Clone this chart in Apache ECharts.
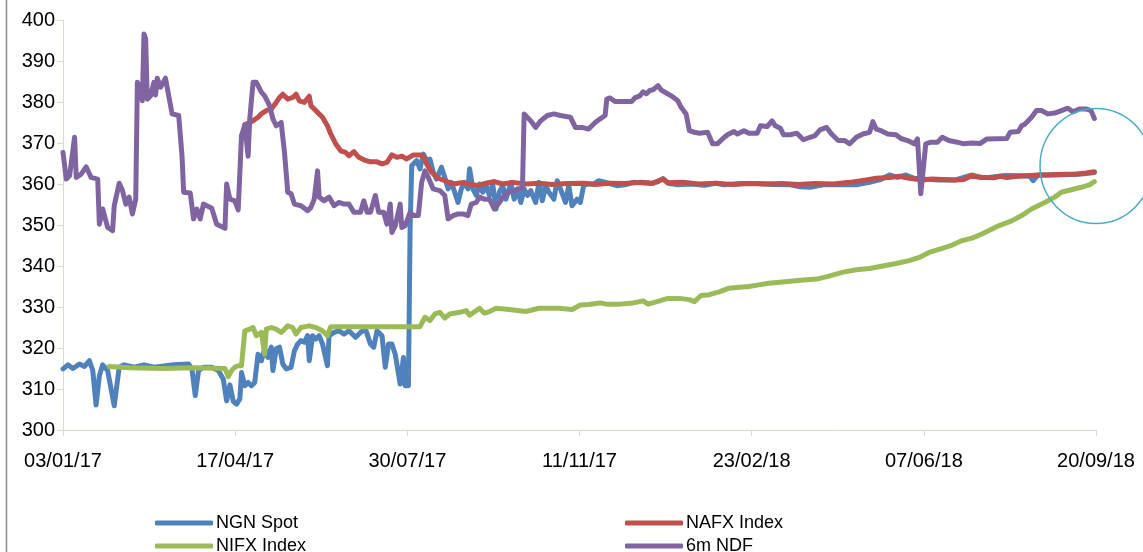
<!DOCTYPE html>
<html>
<head>
<meta charset="utf-8">
<script src="https://cdn.jsdelivr.net/npm/echarts@6/dist/echarts.min.js"></script>
<style>
html,body{margin:0;padding:0;background:#fff;}
#container{width:1143px;height:552px;}
</style>
</head>
<body>
<div id="container"></div>
<script>
// x values are days since 03/01/17
var tickLabels = ['03/01/17','17/04/17','30/07/17','11/11/17','23/02/18','07/06/18','20/09/18'];
var seriesNames = ['NGN Spot','NAFX Index','NIFX Index','6m NDF'];

var ngnSpot = [[0,314.9],[3,315.9],[6,315],[10,316.1],[13,315.5],[16,316.9],[18,314.5],[20,306.1],[22,313.2],[24,315.9],[27,314.5],[31,305.9],[34,315.3],[37,315.9],[43,315.3],[49,315.9],[55,315.3],[61,315.6],[67,315.9],[76,316.1],[78,314.9],[80,308.4],[82,314.5],[85,315.3],[90,315.3],[94,314.5],[97,312.4],[99,307.1],[101,311],[103,307],[105,306.3],[107,307.6],[108,314],[110,310.8],[112,311.6],[114,310.8],[116,311.6],[118,318.5],[120,316.9],[122,319.8],[124,317.7],[126,320.2],[127,314.5],[129,319.8],[131,320.2],[133,316.1],[135,314.9],[138,315.3],[140,319.3],[142,321],[144,321.8],[146,321.4],[148,323],[149,316.9],[151,323],[153,322.2],[155,323],[157,321],[160,315.7],[161,323],[164,323.8],[167,324.2],[170,323.4],[173,324.2],[177,322.6],[180,323.8],[183,324.6],[186,321],[188,320.2],[190,324.2],[193,323],[195,315.3],[197,321],[199,321],[201,318.5],[204,311.2],[206,317.7],[207,310.8],[209,310.8],[210,349],[211,364.5],[214,365.7],[216,363.7],[218,367.3],[220,365.7],[222,366.1],[224,362.9],[226,361.2],[229,364.1],[231,361.6],[233,358.8],[235,360.4],[237,358],[239,355.5],[241,358.8],[243,360.4],[245,358.8],[246,363.7],[248,358.8],[250,357.2],[252,360],[254,358],[256,359.6],[258,357.2],[260,360],[262,353.9],[264,358],[266,359.6],[268,356.3],[271,360.4],[273,356.3],[275,358.8],[277,355.5],[279,358.8],[281,357.2],[283,358.4],[286,355.5],[288,360.4],[290,355.9],[292,359.6],[294,358],[297,356.3],[299,360.8],[301,358.8],[304,355.5],[306,359.6],[308,354.7],[311,356.3],[313,355.5],[315,359.6],[317,360],[321,360],[324,360.8],[330,360.2],[335,359.6],[340,359.8],[345,360.4],[350,360.3],[356,360.1],[360,360.6],[363,361.3],[366,360.2],[372,359.8],[380,360],[388,359.7],[395,360.2],[400,359.8],[410,360.1],[420,360.1],[430,359.9],[440,359.8],[446,359.3],[452,359.2],[460,359.8],[470,359.9],[480,359.8],[488,360.4],[494,361],[500,362.2],[505,361.6],[510,362.2],[515,361.4],[520,361.2],[530,361],[540,361],[550,362.2],[555,361.6],[560,361.6],[570,362.1],[580,362],[585,361.9],[587,360.8],[590,362.2],[600,362.2],[610,362.3],[618,362.5],[624,362.8]];

var nafxIndex = [[110,374.5],[113,375],[115,375.4],[118,376.3],[120,377.1],[123,377.9],[126,378.3],[129,379.9],[131,381.1],[133,381.9],[136,380.7],[139,381.1],[141,381.9],[143,380.3],[146,379.9],[149,381.4],[150,379.1],[153,377.9],[157,376.3],[160,374.2],[162,372.2],[165,369.8],[168,368.1],[171,367.7],[173,366.9],[176,367.9],[179,366.5],[182,365.9],[186,365.4],[190,365.4],[193,364.9],[196,365.3],[199,367.1],[202,366.5],[205,366.8],[208,366.1],[212,367.1],[216,367.1],[218,366.9],[220,364.9],[223,362.9],[227,361.4],[231,360.8],[236,360],[241,360.3],[246,360],[251,359.6],[256,360.2],[261,360.6],[266,360],[272,360.4],[280,360],[288,360.2],[296,359.9],[305,360.1],[315,360.2],[322,359.9],[330,360.2],[340,360.1],[350,360.4],[357,360.2],[363,361.2],[366,360.3],[375,360.4],[385,360],[395,360.2],[405,359.9],[415,360.1],[425,360],[435,360.1],[445,359.9],[455,360.1],[466,360],[476,360.4],[486,361],[492,361.4],[500,361.6],[506,361.9],[512,361.4],[520,361],[526,361.2],[532,361.1],[540,361],[545,361.1],[549,361.9],[557,361.6],[563,361.5],[567,361.9],[571,361.6],[578,361.9],[583,362],[590,362.2],[595,362.2],[601,362.3],[607,362.4],[613,362.4],[619,362.7],[624,363]];

var nifxIndex = [[28,315.5],[40,315.2],[60,315],[80,315.2],[98,315],[100,313],[102,314.5],[104,315.3],[106,315.7],[108,315.7],[110,324.2],[113,324.6],[115,325],[117,323],[120,323.8],[122,318.5],[123,324.6],[126,325],[129,324.6],[132,323.8],[136,325.4],[139,325],[141,323.4],[144,325],[149,325.4],[153,325],[157,324.2],[160,323],[162,325.2],[190,325.2],[216,325.2],[219,327.5],[222,326.7],[225,328.3],[228,328.7],[231,327.3],[234,328.3],[240,328.7],[244,329.1],[246,328],[252,329.7],[255,328.5],[258,328.9],[262,329.7],[270,329.4],[280,328.9],[288,329.7],[300,329.7],[308,329.4],[313,330.5],[318,330.6],[325,331],[329,330.7],[337,330.7],[345,331],[351,331.5],[354,330.7],[361,331.5],[366,332.1],[373,332.1],[379,331.8],[382,331.3],[386,332.8],[391,333],[397,333.7],[403,334.6],[409,334.8],[415,335],[421,335.4],[427,335.8],[432,336],[440,336.3],[448,336.6],[456,336.8],[464,337.6],[472,338.5],[480,339.1],[488,339.4],[496,340],[504,340.6],[512,341.3],[518,342.1],[524,343.3],[532,344.3],[538,345.1],[544,346.2],[550,346.8],[556,347.8],[563,349.2],[566,349.8],[574,351],[580,352.3],[586,353.9],[594,355.5],[600,356.8],[604,358],[610,358.6],[616,359.2],[621,359.8],[624,360.6]];

var ndf6m = [[0,367.7],[2,361.2],[4,362],[7,371.4],[8,361.6],[11,362.4],[14,364.2],[17,361.6],[21,361.2],[22,350.2],[24,353.9],[27,349.4],[30,348.6],[31,354.7],[34,360.2],[36,358.4],[38,355.1],[40,356.8],[42,352.7],[44,356.3],[45,384.8],[47,383.2],[48,380.3],[49,396.6],[50,395.4],[51,380.7],[53,381.5],[55,384.8],[56,381.7],[57,385.8],[59,383.6],[62,385.8],[66,377.1],[70,376.7],[72,366.9],[73,358],[77,357.8],[79,351.5],[81,353.9],[83,351.5],[85,355.1],[90,354.1],[93,350.2],[98,349.2],[99,360],[101,356.3],[104,355.9],[106,353.7],[108,371.8],[110,374.4],[112,366.8],[113,375.9],[115,384.8],[117,384.8],[120,382.4],[122,381.5],[125,379.1],[127,375.9],[129,374.2],[132,375],[134,367.7],[136,358],[138,357.6],[140,355.1],[144,354.7],[148,353.5],[150,354.3],[152,356.3],[154,363.2],[155,356.8],[158,355.9],[161,356.8],[164,354.7],[167,355.5],[170,355.1],[173,355.1],[176,353.1],[180,353.1],[182,355.9],[184,353.1],[186,353.1],[189,357.2],[191,353.1],[194,353.1],[196,350.2],[198,355.1],[199,348.2],[201,349.8],[204,355.1],[205,349.4],[207,349.8],[210,353.1],[212,352.3],[215,352.3],[217,360.4],[219,363.2],[221,361.6],[224,358.8],[228,358.4],[231,357.2],[233,351.5],[236,352.3],[239,352.7],[242,352.7],[245,352.3],[247,355.1],[250,355.5],[252,356.8],[255,356.3],[258,356.3],[261,353.9],[264,355.5],[267,357.2],[270,358],[273,358.4],[276,358.8],[278,359.2],[279,377.1],[283,375.4],[286,373.8],[289,375.4],[293,376.7],[297,377.1],[301,376.7],[307,376.3],[310,373.8],[314,373.8],[318,373.4],[322,375],[325,375.9],[328,376.7],[329,380.7],[331,381],[334,380.1],[344,380.1],[346,381],[349,381.5],[351,382.5],[353,382],[355,382.8],[357,383],[360,384],[362,382.9],[365,382.2],[368,381.5],[372,380.3],[374,378.7],[377,377.1],[379,373],[382,372.6],[385,372.4],[390,372.6],[393,369.8],[396,369.8],[399,371],[402,372],[406,372.8],[408,372.2],[412,373],[415,372.4],[420,372.4],[422,374.2],[426,374],[429,375.4],[431,374.2],[434,373.6],[436,372],[440,372],[444,372.4],[448,370.8],[452,371.4],[455,371.8],[458,373.2],[462,373.8],[465,372.2],[469,370.6],[473,370.6],[476,369.8],[480,371.4],[484,372.2],[488,372.6],[490,375.2],[492,373.4],[495,373],[499,372.2],[504,372],[507,371.1],[511,370.6],[515,369.8],[517,371],[519,357.6],[522,369.8],[525,370.2],[529,370.2],[532,371.4],[536,370.6],[541,370.2],[545,369.8],[550,370],[555,369.9],[559,371],[571,371.1],[573,372.6],[578,372.8],[580,374.2],[582,374.6],[586,376.3],[589,377.9],[592,377.9],[596,377.1],[600,377.3],[604,377.9],[608,378.5],[611,377.6],[615,378.3],[619,378.3],[622,377.9],[624,376]];

var colors = ['#4f81bd','#c0504d','#9bbb59','#8064a2'];
var seriesData = [ngnSpot, nafxIndex, nifxIndex, ndf6m];

function buildSeries(){
	var list = [];
	for(var i=0;i<seriesNames.length;i++){
		list.push({
			name: seriesNames[i],
			type: 'line',
			data: seriesData[i],
			showSymbol: false,
			symbol: 'none',
			lineStyle: {width: 5, color: colors[i], cap: 'round', join: 'round'},
			itemStyle: {color: colors[i]},
			z: 2 + i
		});
	}
	return list;
}

function legendBlock(left, names){
	return {
		left: left,
		top: 509,
		height: 100,
		orient: 'vertical',
		data: names,
		icon: 'roundRect',
		itemWidth: 58,
		itemHeight: 5,
		itemGap: 5,
		textStyle: {fontFamily: 'Liberation Sans', fontSize: 18, color: '#000', lineHeight: 18, padding: [0,0,0,-2]}
	};
}

var step = 625 / 6;
var chart = echarts.init(document.getElementById('container'));
var option = {
	animation: false,
	color: colors,
	grid: {left: 63, right: 47, top: 20, bottom: 122, containLabel: false},
	legend: [
		legendBlock(150, ['NGN Spot','NIFX Index']),
		legendBlock(620, ['NAFX Index','6m NDF'])
	],
	xAxis: {
		type: 'value',
		min: 0,
		max: 625,
		interval: step,
		axisLine: {show: true, lineStyle: {color: '#dddacb', width: 1}},
		axisTick: {show: true, length: 6, lineStyle: {color: '#dddacb'}},
		splitLine: {show: false},
		axisLabel: {
			margin: 21,
			fontFamily: 'Liberation Sans',
			fontSize: 20,
			color: '#000',
			formatter: function(val){
				return tickLabels[Math.round(val / step)];
			}
		}
	},
	yAxis: {
		type: 'value',
		min: 300,
		max: 400,
		interval: 10,
		axisLine: {show: true, lineStyle: {color: '#dddacb', width: 1}},
		axisTick: {show: true, length: 6, lineStyle: {color: '#dddacb'}},
		splitLine: {show: false},
		axisLabel: {margin: 8, fontFamily: 'Liberation Sans', fontSize: 20, color: '#000'}
	},
	graphic: [
		{type: 'line', shape: {x1: 6.5, y1: 0, x2: 6.5, y2: 552}, style: {stroke: '#8c8c8c', lineWidth: 1.5}, silent: true},
		{type: 'ellipse', shape: {cx: 1096, cy: 166, rx: 56, ry: 57.5}, style: {fill: 'none', stroke: '#4bacc6', lineWidth: 1.5}, silent: true, z: 100}
	],
	series: buildSeries()
};
chart.setOption(option);
</script>
</body>
</html>
